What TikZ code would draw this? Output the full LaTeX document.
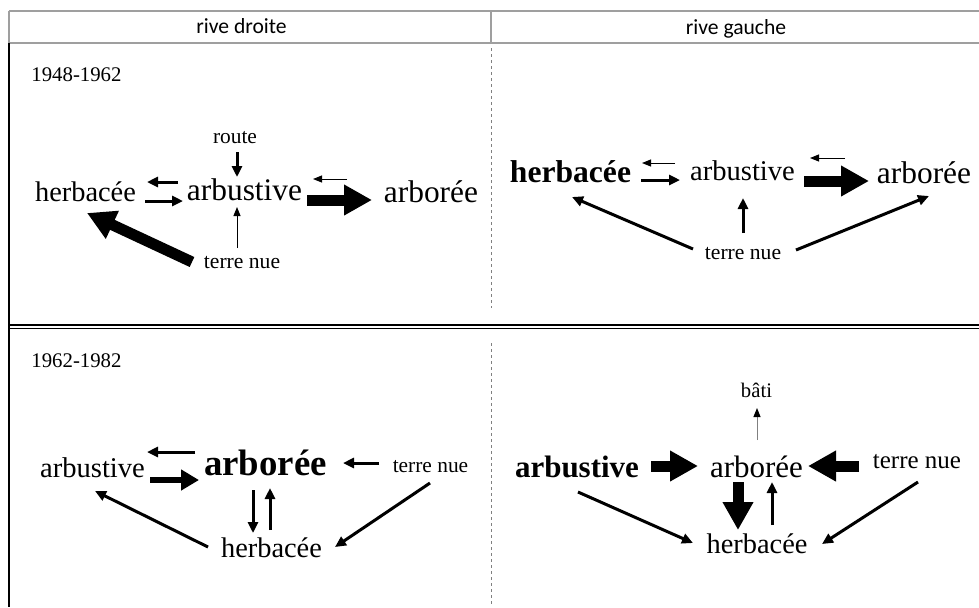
\documentclass[tikz,border=0pt]{standalone}
\usepackage{fontspec}
\setmainfont{Liberation Serif}
\newfontfamily\headfont{Carlito}
\usetikzlibrary{arrows.meta}
\newcommand{\fsz}[1]{\fontsize{#1}{#1}\selectfont}

\begin{document}
\begin{tikzpicture}[x=0.5pt, y=-0.5pt,
    lab/.style={inner sep=0pt, anchor=base},
    flowthin/.style={-{Triangle[length=4.5pt,width=3.5pt]}, line width=0.5pt},
    flowmid/.style={-{Triangle[length=5.5pt,width=5pt]}, line width=1.5pt},
    flowthick/.style={-{Triangle[length=9pt,width=10pt]}, line width=3pt},
    flowbig/.style={-{Triangle[length=14pt,width=14.5pt]}, line width=5.5pt}]
    \useasboundingbox (0,0) rectangle (979,607);

    % Table frame
    \draw[gray!75, line width=1pt] (9,11) -- (979,11);
    \draw[gray!75, line width=1pt] (9,42.5) -- (979,42.5);
    \draw[gray!75, line width=1pt] (9,11) -- (9,42.5);
    \draw[gray!75, line width=1pt] (491,11) -- (491,42.5);
    \draw[line width=0.6pt] (9,42.5) -- (9,607);
    \draw[line width=0.6pt] (9,325) -- (979,325);
    \draw[line width=0.6pt] (9,328.6) -- (979,328.6);
    \draw[gray, line width=0.4pt, dash pattern=on 1.5pt off 1.5pt] (491,48) -- (491,308);
    \draw[gray, line width=0.4pt, dash pattern=on 1.5pt off 1.5pt] (491,343) -- (491,607);

    % Headers
    \node[lab, font={\headfont\fsz{10.8pt}}] (hleft) at (241.5,33.5) {rive droite};
    \node[lab, font={\headfont\fsz{10.8pt}}] (hright) at (736,34) {rive gauche};

    % Top left - rive droite 1948-1962
    \node[lab, anchor=base west, font={\fsz{10.4pt}}] (perA) at (31,81) {1948-1962};
    \node[lab, font={\fsz{14.2pt}}] (herbA) at (85.5,201) {herbacée};
    \node[lab, font={\fsz{15.7pt}}] (arbuA) at (244.5,200) {arbustive};
    \node[lab, font={\fsz{15.7pt}}] (arboA) at (431,202) {arborée};
    \node[lab, font={\fsz{10.7pt}}] (routeA) at (235,143) {route};
    \node[lab, font={\fsz{10.8pt}}] (terreA) at (242,268) {terre nue};

    \draw[flowmid] ([shift={(2,9)}]routeA.base) -- ([shift={(-7.5,-23)}]arbuA.base);
    \draw[flowthin] ([shift={(-5,-20)}]terreA.base) -- ([shift={(-7.5,7)}]arbuA.base);
    \draw[flowmid] ([shift={(-66.5,-18)}]arbuA.base) -- ([shift={(61.5,-19)}]herbA.base);
    \draw[flowmid] ([shift={(59.5,0)}]herbA.base) -- ([shift={(-61.5,1)}]arbuA.base);
    \draw[flowthin] ([shift={(-84,-23)}]arboA.base) -- ([shift={(68.5,-21)}]arbuA.base);
    \draw[flowbig] ([shift={(62.5,0)}]arbuA.base) -- ([shift={(-59,-2)}]arboA.base);
    \draw[flowbig] ([shift={(-50,-6)}]terreA.base) -- ([shift={(1.5,12)}]herbA.base);

    % Top right - rive gauche 1948-1962
    \node[lab, font={\bfseries\fsz{15.8pt}}] (herbB) at (570.5,182) {herbacée};
    \node[lab, font={\fsz{14.3pt}}] (arbuB) at (742.5,180) {arbustive};
    \node[lab, font={\fsz{15.7pt}}] (arboB) at (924,183) {arborée};
    \node[lab, font={\fsz{10.8pt}}] (terreB) at (743,259) {terre nue};

    \draw[flowthin] ([shift={(-67.5,-17)}]arbuB.base) -- ([shift={(71.5,-19)}]herbB.base);
    \draw[flowmid] ([shift={(70.5,-2)}]herbB.base) -- ([shift={(-62.5,0)}]arbuB.base);
    \draw[flowthin] ([shift={(-79,-25)}]arboB.base) -- ([shift={(67.5,-22)}]arbuB.base);
    \draw[flowbig] ([shift={(61.5,1)}]arbuB.base) -- ([shift={(-55,-2)}]arboB.base);
    \draw[flowmid] ([shift={(0,-26)}]terreB.base) -- ([shift={(0.5,18)}]arbuB.base);
    \draw[flowmid] ([shift={(-50,-10)}]terreB.base) -- ([shift={(1.5,15)}]herbB.base);
    \draw[flowmid] ([shift={(53,-9)}]terreB.base) -- ([shift={(5,13)}]arboB.base);

    % Bottom left - rive droite 1962-1982
    \node[lab, anchor=base west, font={\fsz{10.4pt}}] (perC) at (31,367) {1962-1982};
    \node[lab, font={\fsz{14.3pt}}] (arbuC) at (92.5,477) {arbustive};
    \node[lab, font={\bfseries\fsz{18.4pt}}] (arboC) at (265.5,475) {arborée};
    \node[lab, font={\fsz{10.7pt}}] (terreC) at (430.5,472) {terre nue};
    \node[lab, font={\fsz{14.2pt}}] (herbC) at (271.5,557) {herbacée};

    \draw[flowmid] ([shift={(-70.5,-23)}]arboC.base) -- ([shift={(54.5,-25)}]arbuC.base);
    \draw[flowthick] ([shift={(57.5,3)}]arbuC.base) -- ([shift={(-66.5,5)}]arboC.base);
    \draw[flowmid] ([shift={(-12.5,15)}]arboC.base) -- ([shift={(-18.5,-24)}]herbC.base);
    \draw[flowmid] ([shift={(-1.5,-27)}]herbC.base) -- ([shift={(4.5,13)}]arboC.base);
    \draw[flowmid] ([shift={(-51.5,-9)}]terreC.base) -- ([shift={(77.5,-12)}]arboC.base);
    \draw[flowmid] ([shift={(-63.5,-10)}]herbC.base) -- ([shift={(2.5,14)}]arbuC.base);
    \draw[flowmid] ([shift={(-0.5,11)}]terreC.base) -- ([shift={(63.5,-10)}]herbC.base);

    % Bottom right - rive gauche 1962-1982
    \node[lab, font={\fsz{10.35pt}}] (batiD) at (756.5,397) {bâti};
    \node[lab, font={\bfseries\fsz{15.5pt}}] (arbuD) at (577,477) {arbustive};
    \node[lab, font={\fsz{15.5pt}}] (arboD) at (756.5,477) {arborée};
    \node[lab, font={\fsz{12.5pt}}] (terreD) at (917,468) {terre nue};
    \node[lab, font={\fsz{14.2pt}}] (herbD) at (757,553) {herbacée};

    \draw[flowthin, draw=gray, -{Triangle[length=4.5pt,width=3.5pt,black]}] ([shift={(0.5,-37)}]arboD.base) -- ([shift={(0.5,11)}]batiD.base);
    \draw[flowbig] ([shift={(74,-11)}]arbuD.base) -- ([shift={(-58.5,-11)}]arboD.base);
    \draw[flowbig] ([shift={(-58,-2)}]terreD.base) -- ([shift={(51.5,-11)}]arboD.base);
    \draw[flowbig] ([shift={(-18.5,5)}]arboD.base) -- ([shift={(-19,-23)}]herbD.base);
    \draw[flowmid] ([shift={(15,-28)}]herbD.base) -- ([shift={(15.5,5)}]arboD.base);
    \draw[flowmid] ([shift={(1,15)}]arbuD.base) -- ([shift={(-64,-10)}]herbD.base);
    \draw[flowmid] ([shift={(1,14)}]terreD.base) -- ([shift={(65,-9)}]herbD.base);
\end{tikzpicture}
\end{document}
